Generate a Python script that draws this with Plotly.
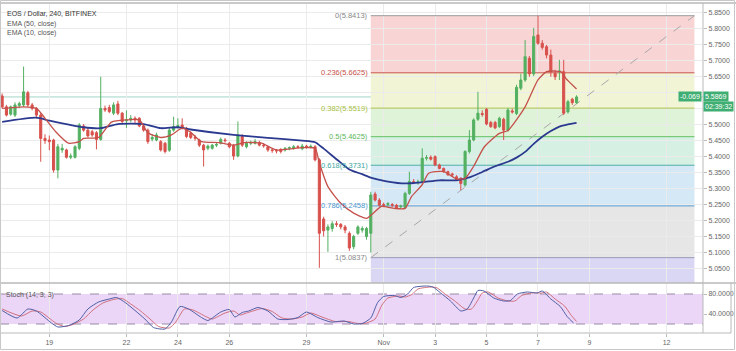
import numpy as np
import pandas as pd
import plotly.graph_objects as go

# ---------------- data ----------------
start_time = "2018-10-17 04:00"   # first 4h candle
opens = [5.590,5.556,5.533,5.530,5.560,5.562,5.600,5.562,5.551,5.530,
         5.457,5.452,5.452,5.358,5.421,5.421,5.398,5.398,5.426,5.496,
         5.483,5.478,5.475,5.454,5.551,5.554,5.536,5.565,5.536,5.512,
         5.515,5.520,5.520,5.496,5.483,5.455,5.452,5.447,5.442,5.420,
         5.483,5.494,5.499,5.489,5.473,5.460,5.452,5.436,5.426,5.426,
         5.436,5.442,5.452,5.442,5.436,5.402,5.463,5.431,5.442,5.442,
         5.444,5.436,5.431,5.421,5.419,5.423,5.421,5.426,5.426,5.431,
         5.425,5.433,5.431,5.431,5.390,5.205,5.170,5.175,5.190,5.188,
         5.180,5.160,5.118,5.160,5.170,5.150,5.160,5.283,5.264,5.250,
         5.250,5.250,5.248,5.243,5.241,5.285,5.322,5.318,5.321,5.395,
         5.398,5.400,5.374,5.363,5.353,5.346,5.337,5.332,5.311,5.416,
         5.452,5.517,5.535,5.548,5.507,5.507,5.494,5.517,5.483,5.543,
         5.535,5.614,5.640,5.708,5.659,5.781,5.755,5.744,5.718,5.661,
         5.666,5.666,5.540,5.580,5.569]
highs = [5.598,5.562,5.560,5.570,5.572,5.682,5.606,5.568,5.555,5.536,
         5.470,5.466,5.456,5.440,5.440,5.425,5.410,5.436,5.505,5.502,
         5.490,5.484,5.480,5.650,5.560,5.562,5.570,5.575,5.540,5.545,
         5.530,5.526,5.524,5.500,5.488,5.470,5.475,5.452,5.446,5.490,
         5.525,5.520,5.520,5.493,5.478,5.468,5.456,5.440,5.438,5.440,
         5.445,5.460,5.458,5.446,5.440,5.510,5.470,5.448,5.450,5.455,
         5.450,5.442,5.434,5.426,5.424,5.426,5.430,5.432,5.436,5.436,
         5.440,5.437,5.438,5.436,5.395,5.212,5.188,5.198,5.198,5.192,
         5.186,5.166,5.155,5.185,5.182,5.180,5.290,5.290,5.270,5.256,
         5.258,5.255,5.252,5.250,5.290,5.353,5.330,5.328,5.426,5.405,
         5.404,5.404,5.378,5.366,5.356,5.350,5.342,5.336,5.420,5.483,
         5.520,5.603,5.545,5.552,5.512,5.512,5.525,5.522,5.552,5.550,
         5.625,5.660,5.765,5.715,5.803,5.8413,5.765,5.750,5.735,5.672,
         5.703,5.703,5.578,5.584,5.592]
lows = [5.552,5.526,5.528,5.524,5.552,5.555,5.556,5.545,5.520,5.384,
        5.440,5.420,5.350,5.332,5.412,5.394,5.392,5.394,5.420,5.478,
        5.460,5.462,5.423,5.450,5.540,5.536,5.530,5.530,5.505,5.490,
        5.508,5.505,5.492,5.478,5.440,5.448,5.448,5.416,5.410,5.415,
        5.478,5.488,5.485,5.458,5.455,5.450,5.430,5.369,5.420,5.422,
        5.430,5.438,5.444,5.426,5.390,5.398,5.430,5.426,5.436,5.438,
        5.432,5.428,5.415,5.412,5.410,5.410,5.416,5.420,5.422,5.425,
        5.420,5.425,5.426,5.385,5.052,5.150,5.102,5.165,5.180,5.172,
        5.160,5.105,5.110,5.155,5.162,5.140,5.100,5.260,5.244,5.242,
        5.244,5.242,5.236,5.238,5.236,5.280,5.314,5.312,5.318,5.388,
        5.388,5.370,5.360,5.350,5.340,5.338,5.324,5.295,5.306,5.410,
        5.448,5.512,5.525,5.498,5.490,5.486,5.490,5.452,5.478,5.535,
        5.530,5.608,5.634,5.650,5.652,5.750,5.735,5.708,5.650,5.640,
        5.640,5.530,5.535,5.562,5.565]
closes = [5.556,5.530,5.556,5.562,5.566,5.603,5.562,5.551,5.530,5.457,
          5.450,5.447,5.358,5.431,5.426,5.398,5.402,5.431,5.499,5.483,
          5.465,5.468,5.454,5.551,5.546,5.541,5.562,5.536,5.510,5.515,
          5.520,5.515,5.496,5.483,5.447,5.460,5.468,5.421,5.416,5.483,
          5.494,5.497,5.489,5.463,5.460,5.458,5.436,5.421,5.433,5.436,
          5.438,5.454,5.450,5.431,5.402,5.468,5.436,5.442,5.444,5.447,
          5.436,5.434,5.421,5.419,5.418,5.416,5.426,5.428,5.431,5.430,
          5.433,5.431,5.432,5.390,5.160,5.168,5.180,5.190,5.188,5.180,
          5.170,5.114,5.150,5.180,5.175,5.175,5.280,5.264,5.248,5.248,
          5.253,5.248,5.240,5.245,5.285,5.322,5.318,5.321,5.395,5.397,
          5.392,5.374,5.363,5.353,5.343,5.343,5.327,5.316,5.416,5.452,
          5.515,5.536,5.532,5.502,5.494,5.490,5.520,5.483,5.546,5.540,
          5.617,5.640,5.713,5.659,5.776,5.755,5.742,5.718,5.666,5.650,
          5.668,5.536,5.572,5.569,5.5869]

# EMA readings (candle index, price)
ema50_idx = [0, 8, 11, 19, 23, 27, 33, 37, 41, 44, 54, 62, 70, 73, 75, 78, 81,
             84, 86, 90, 94, 98, 102, 106, 109, 112, 115, 118, 120, 122, 124,
             126, 128, 130, 132, 134]
ema50_val = [5.509, 5.522, 5.513, 5.492, 5.489, 5.502, 5.502, 5.489, 5.492,
             5.485, 5.468, 5.459, 5.450, 5.445, 5.425, 5.392, 5.360, 5.345,
             5.334, 5.322, 5.316, 5.320, 5.326, 5.326, 5.335, 5.352, 5.370,
             5.384, 5.397, 5.415, 5.440, 5.462, 5.480, 5.494, 5.501, 5.506]
ema10_idx = [0, 5, 8, 10, 12.5, 15.5, 18, 19, 22.5, 25.5, 29, 32, 34, 37, 39.5,
             42, 44, 46.5, 50.5, 54, 56.5, 60.5, 64, 70, 73, 74, 76, 79, 82, 85,
             86.5, 88.5, 91.5, 94, 95.5, 98, 99.5, 103, 106, 108, 110, 112.5,
             116, 118, 122, 125, 127, 129, 130.5, 131.5, 134]
ema10_val = [5.551, 5.556, 5.551, 5.520, 5.478, 5.442, 5.447, 5.457, 5.460,
             5.508, 5.515, 5.515, 5.475, 5.460, 5.468, 5.489, 5.476, 5.447,
             5.444, 5.436, 5.444, 5.442, 5.421, 5.428, 5.426, 5.380, 5.306,
             5.254, 5.223, 5.207, 5.222, 5.244, 5.238, 5.238, 5.275, 5.312,
             5.348, 5.353, 5.330, 5.332, 5.370, 5.431, 5.473, 5.482, 5.556,
             5.640, 5.666, 5.668, 5.665, 5.645, 5.612]

# Stochastic (14,3,3) readings
stk_idx = [0, 3.5, 6, 8, 11.5, 13, 15.5, 18, 20, 22.5, 25, 26.7, 28.7, 31, 33.3,
           35.3, 38, 39.5, 41.5, 43.5, 46.5, 48, 51, 53, 54.3, 56, 57.5, 59.7,
           62, 64.3, 66.7, 69, 71, 73.6, 76.7, 79.8, 82, 84, 86, 87.6, 89, 91.5,
           93, 94.6, 96, 99, 100.5, 102.3, 104.6, 107, 108.5, 110, 111, 112.4,
           114.7, 117, 118.6, 120.2, 122.5, 124.8, 126, 128, 130.2, 131.8, 133.3]
stk_val = [47, 32, 50, 46, 22, 14, 17, 28, 50, 64, 70, 73, 63, 47, 30, 13, 10,
           24, 55, 50, 33, 27, 44, 49, 34, 43, 46, 53, 46, 30, 29, 33, 44, 33,
           24, 26, 20, 21, 32, 63, 75, 77, 73, 80, 93, 96, 94, 82, 66, 46, 50,
           72, 87, 86, 72, 66, 67, 80, 84, 82, 86, 70, 55, 35, 22]
std_idx = [0, 4.5, 7, 9, 12.5, 14.5, 16.5, 19, 21.2, 23.5, 26, 28, 30, 32.3,
           34.5, 36.5, 39, 40.5, 42.5, 44.5, 47.5, 49, 52, 54, 55.5, 57, 58.5,
           60.7, 63, 65.3, 67.7, 70, 72, 74.6, 77.7, 80.8, 83, 85, 87, 88.6, 90,
           92.5, 94, 95.6, 97, 100, 101.5, 103.3, 105.6, 108, 109.5, 111, 112,
           113.4, 115.7, 118, 119.6, 121.2, 123.5, 125.8, 127, 129, 131.2,
           132.8, 134]
std_val = [50, 36, 46, 44, 22, 15, 19, 30, 48, 62, 69, 71, 60, 46, 30, 15, 12,
           24, 50, 48, 35, 30, 42, 46, 38, 42, 46, 51, 45, 32, 30, 34, 42, 34,
           25, 25, 21, 22, 30, 58, 72, 76, 74, 79, 90, 94, 92, 80, 66, 50, 50,
           68, 82, 84, 72, 66, 66, 77, 82, 82, 84, 70, 56, 37, 25]

# Fibonacci retracement
fib_start, fib_end = "2018-10-31 12:00", "2018-11-13 02:00"
fib_ratios = ["0", "0.236", "0.382", "0.5", "0.618", "0.786", "1"]
fib_prices = [5.8413, 5.6625, 5.5519, 5.4625, 5.3731, 5.2458, 5.0837]

last_price = 5.5869
last_change = "-0.069"
countdown = "02:39:32"

tick_dates = ["2018-10-19", "2018-10-22", "2018-10-24", "2018-10-26", "2018-10-29",
              "2018-11-01", "2018-11-03", "2018-11-05", "2018-11-07", "2018-11-09",
              "2018-11-12"]
tick_text = ["19", "22", "24", "26", "29", "Nov", "3", "5", "7", "9", "12"]
price_ticks = [round(5.05 + 0.05 * k, 2) for k in range(17)]
hidden_price_ticks = [5.55, 5.60]   # covered by the last-price labels

# ---------------- styling ----------------
W, H = 736, 351
ML, MR, MT, MB = 0, 33, 4, 18
PW, PH = W - ML - MR, H - MT - MB
FONT = "Liberation Sans, Arial, sans-serif"
GREEN, RED = "#53b061", "#d8514c"
fib_line_colors = ["#9a9a9a", "#c9504a", "#aac24a", "#63c064", "#4fb0a8", "#5b9fd2", "#9a9ab8"]
fib_text_colors = ["#888888", "#c9504a", "#a6bf3c", "#5cb85c", "#3fa7a0", "#4b98cf", "#888888"]
fib_fill_colors = ["#f8d4d4", "#f1f5d6", "#dff3d9", "#d6f1e3", "#d5e8f6", "#e6e6e6", "#d9d7f3"]


def pxx(px):
    return (px - ML) / PW


def pxy(py):
    return (H - MB - py) / PH


t0 = pd.Timestamp(start_time)
times = pd.date_range(t0, periods=len(opens), freq="4h")


def idx_to_time(idx):
    return t0 + pd.to_timedelta(np.array(idx, dtype=float) * 4, unit="h")


y_lo, y_hi = 5.0044, 5.8779
x_range = ["2018-10-17 02:00", "2018-11-13 10:00"]

fig = go.Figure()
fig.add_trace(go.Candlestick(
    x=times, open=opens, high=highs, low=lows, close=closes,
    increasing=dict(line=dict(color=GREEN, width=1), fillcolor=GREEN),
    decreasing=dict(line=dict(color=RED, width=1), fillcolor=RED),
    whiskerwidth=0, showlegend=False, xaxis="x", yaxis="y"))
fig.add_trace(go.Scatter(x=idx_to_time(ema50_idx), y=ema50_val, mode="lines",
                         line=dict(color="#2b3a8f", width=1.8, shape="spline", smoothing=0.6),
                         showlegend=False, xaxis="x", yaxis="y"))
fig.add_trace(go.Scatter(x=idx_to_time(ema10_idx), y=ema10_val, mode="lines",
                         line=dict(color="#c4504a", width=1.3, shape="spline", smoothing=0.6),
                         showlegend=False, xaxis="x", yaxis="y"))
fig.add_trace(go.Scatter(x=idx_to_time(std_idx), y=std_val, mode="lines",
                         line=dict(color="#d0707e", width=1, shape="spline", smoothing=0.6),
                         showlegend=False, xaxis="x", yaxis="y2"))
fig.add_trace(go.Scatter(x=idx_to_time(stk_idx), y=stk_val, mode="lines",
                         line=dict(color="#4e5fa6", width=1, shape="spline", smoothing=0.6),
                         showlegend=False, xaxis="x", yaxis="y2"))

shapes = []
# fib zones
zone_bounds = fib_prices + [y_lo]
for k in range(len(fib_fill_colors)):
    shapes.append(dict(type="rect", xref="x", yref="y", x0=fib_start, x1=fib_end,
                       y0=zone_bounds[k + 1], y1=zone_bounds[k],
                       fillcolor=fib_fill_colors[k], line=dict(width=0), layer="below"))
for p, c in zip(fib_prices, fib_line_colors):
    shapes.append(dict(type="line", xref="x", yref="y", x0=fib_start, x1=fib_end,
                       y0=p, y1=p, line=dict(color=c, width=1), layer="between"))
# trend line of fib
shapes.append(dict(type="line", xref="x", yref="y", x0=fib_start, x1=fib_end,
                   y0=fib_prices[-1], y1=fib_prices[0],
                   line=dict(color="#a8a8a8", width=1, dash="dash"), layer="between"))
# last price line
shapes.append(dict(type="line", xref="paper", yref="y", x0=0, x1=1,
                   y0=last_price, y1=last_price,
                   line=dict(color="#a3d6c8", width=1), layer="between"))
# stoch band
shapes.append(dict(type="rect", xref="paper", yref="y2", x0=0, x1=1, y0=20, y1=80,
                   fillcolor="#ecd6f7", line=dict(width=0), layer="below"))
for lv in (20, 80):
    shapes.append(dict(type="line", xref="paper", yref="y2", x0=0, x1=1, y0=lv, y1=lv,
                       line=dict(color="#9a8aa6", width=1, dash="dash"), layer="between"))
# frame
frame_col = "#b9b9b9"
shapes += [
    dict(type="line", xref="paper", yref="paper", x0=pxx(0), x1=pxx(736), y0=pxy(3), y1=pxy(3),
         line=dict(color=frame_col, width=1.5)),
    dict(type="line", xref="paper", yref="paper", x0=pxx(0), x1=pxx(736), y0=pxy(283), y1=pxy(283),
         line=dict(color=frame_col, width=1.5)),
    dict(type="line", xref="paper", yref="paper", x0=pxx(0), x1=pxx(731), y0=pxy(333), y1=pxy(333),
         line=dict(color=frame_col, width=1)),
    dict(type="line", xref="paper", yref="paper", x0=pxx(703), x1=pxx(703), y0=pxy(3), y1=pxy(333),
         line=dict(color=frame_col, width=1)),
    dict(type="line", xref="paper", yref="paper", x0=pxx(731), x1=pxx(731), y0=pxy(283), y1=pxy(333),
         line=dict(color=frame_col, width=1)),
    dict(type="rect", xref="paper", yref="paper", x0=pxx(0.5), x1=pxx(734.5), y0=pxy(349.5), y1=pxy(0.5),
         line=dict(color="#c8c8c8", width=1)),
]

annotations = []
legend_lines = [("EOS / Dollar, 240, BITFINEX", 13.3, "#333333"),
                ("EMA (50, close)", 23.8, "#555555"),
                ("EMA (10, close)", 33.0, "#555555")]
for txt, py, col in legend_lines:
    annotations.append(dict(text=txt, xref="paper", yref="paper", x=pxx(5), y=pxy(py),
                            xanchor="left", yanchor="middle", showarrow=False,
                            font=dict(family=FONT, size=7, color=col)))
for r, p, c in zip(fib_ratios, fib_prices, fib_text_colors):
    annotations.append(dict(text=f"{r}({p:.4f})", xref="x", yref="y", x=fib_start, y=p,
                            xanchor="right", yanchor="middle", xshift=-1, showarrow=False,
                            font=dict(family=FONT, size=7.5, color=c)))
annotations.append(dict(text="Stoch (14, 3, 3)", xref="paper", yref="paper", x=pxx(4), y=pxy(295),
                        xanchor="left", yanchor="middle", showarrow=False, bgcolor="rgba(255,255,255,0)",
                        font=dict(family=FONT, size=7, color="#555555")))
LBL = "#3fae72"
annotations.append(dict(text=f"{last_price:.4f}", xref="paper", yref="y", x=1, y=last_price,
                        xanchor="left", yanchor="middle", xshift=0, showarrow=False,
                        bgcolor=LBL, borderpad=1, font=dict(family=FONT, size=7, color="white")))
annotations.append(dict(text=last_change, xref="paper", yref="y", x=1, y=last_price,
                        xanchor="right", yanchor="middle", xshift=-1, showarrow=False,
                        bgcolor=LBL, borderpad=1, font=dict(family=FONT, size=7, color="white")))
annotations.append(dict(text=countdown, xref="paper", yref="y", x=1, y=last_price,
                        xanchor="left", yanchor="middle", xshift=0, yshift=-10, showarrow=False,
                        bgcolor=LBL, borderpad=1, font=dict(family=FONT, size=7, color="white")))

price_ticktext = ["" if v in hidden_price_ticks else f"{v:.4f}" for v in price_ticks]

fig.update_layout(
    width=W, height=H, margin=dict(l=ML, r=MR, t=MT, b=MB),
    paper_bgcolor="white", plot_bgcolor="white", showlegend=False,
    font=dict(family=FONT, size=7, color="#666666"),
    xaxis=dict(type="date", range=x_range, anchor="y2", tickvals=tick_dates, ticktext=tick_text,
               showgrid=True, gridcolor="#ebebeb", gridwidth=1, ticks="outside", ticklen=3,
               tickcolor="#bbbbbb", tickfont=dict(size=7, color="#666666"),
               rangeslider=dict(visible=False), zeroline=False, showline=False),
    yaxis=dict(domain=[pxy(283), 1], range=[y_lo, y_hi], side="right", anchor="x",
               tickvals=price_ticks, ticktext=price_ticktext,
               showgrid=True, gridcolor="#ebebeb", gridwidth=1, ticks="outside", ticklen=3,
               tickcolor="#bbbbbb", tickfont=dict(size=7, color="#666666"), zeroline=False),
    yaxis2=dict(domain=[0, pxy(283)], range=[2, 102], side="right", anchor="x",
                tickvals=[40, 80], ticktext=["40.0000", "80.0000"], showgrid=False,
                ticks="outside", ticklen=3, tickcolor="#bbbbbb",
                tickfont=dict(size=7, color="#666666"), zeroline=False),
    shapes=shapes, annotations=annotations,
)

fig.write_html("out.html")
